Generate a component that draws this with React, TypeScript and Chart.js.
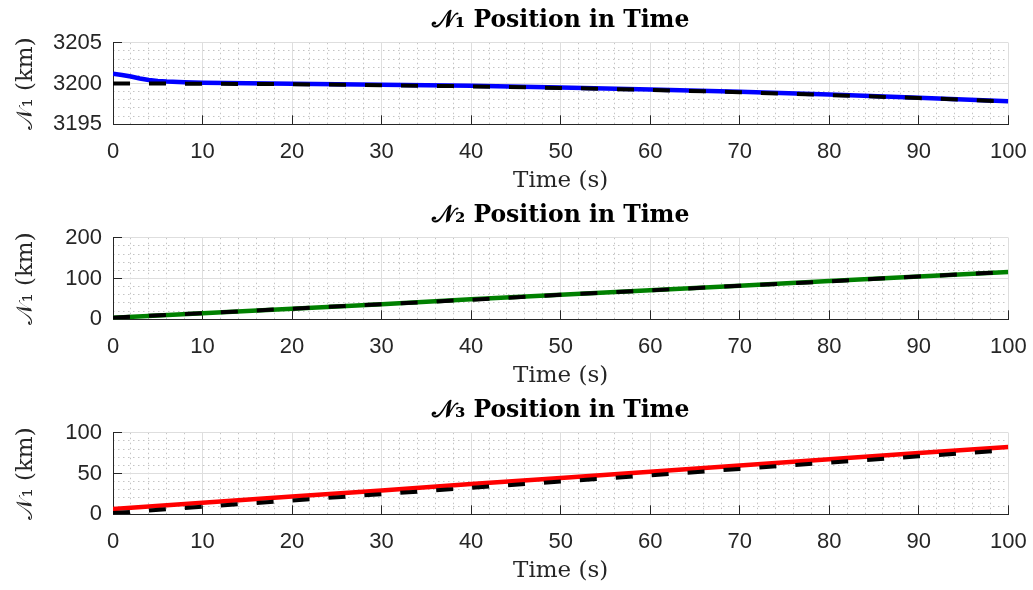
import { useEffect, useRef } from "react";
import { Chart, registerables } from "chart.js";

Chart.register(...registerables);

// ---- data ---------------------------------------------------------------
const REF_TIME = [0, 10, 20, 30, 40, 50, 60, 70, 80, 90, 100];

const N1_TIME = [0, 1, 2, 3, 4, 5, 6, 8, 10, 20, 30, 40, 50, 60, 70, 80, 90, 100];
const N1_ACTUAL = [
  3201.2, 3201.05, 3200.85, 3200.62, 3200.44, 3200.32, 3200.24, 3200.14, 3200.08,
  3199.98, 3199.86, 3199.71, 3199.51, 3199.27, 3198.98, 3198.64, 3198.26, 3197.82,
];
const N1_REF = [3200.0, 3199.98, 3199.91, 3199.8, 3199.65, 3199.46, 3199.22, 3198.93, 3198.59, 3198.22, 3197.8];

const N2_ACTUAL = [4, 15, 26, 37, 49, 60, 71, 82, 94, 105, 116];
const N2_REF = [4, 15, 26, 37, 48, 60, 71, 82, 93, 105, 116];

const N3_ACTUAL = [6.6, 14.2, 21.8, 29.3, 37.0, 44.6, 52.1, 59.8, 67.4, 75.0, 82.6];
const N3_REF = [1.5, 9.2, 17.0, 24.7, 32.4, 40.1, 47.8, 55.6, 63.3, 71.0, 78.7];

const TITLES = ["𝒩₁ Position in Time", "𝒩₂ Position in Time", "𝒩₃ Position in Time"];
const Y_LABEL = "𝒩₁ (km)";
const X_LABEL = "Time (s)";

const Y_RANGES = [
  { min: 3195, max: 3205, major: 5, minor: 1 },
  { min: 0, max: 200, major: 100, minor: 20 },
  { min: 0, max: 100, major: 50, minor: 10 },
];
const X_RANGE = { min: 0, max: 100, major: 10, minor: 2 };

// ---- styling -------------------------------------------------------------
const PANEL_W = 1033;
const PANEL_H = 195;
const PLOT_LEFT = 113;
const PLOT_RIGHT_GAP = 24.7;
const PLOT_BOTTOM = 124.3;
const AXIS_DARK = "#262626";
const GRID_MAJOR = "#dedede";
const GRID_MINOR = "#c4c4c4";
const TICK_FONT = { family: "'Liberation Sans', Arial, sans-serif", size: 22 };
const LABEL_FONT = { family: "'DejaVu Serif', serif", size: 23 };
const TITLE_FONT = { family: "'DejaVu Serif', serif", size: 23.5, weight: "bold" as const };

const pts = (xs: number[], ys: number[]) => xs.map((x, i) => ({ x, y: ys[i] }));

type Series = { time: number[]; values: number[]; color: string; dashed: boolean };

const PANELS: { title: string; series: Series[] }[] = [
  {
    title: TITLES[0],
    series: [
      { time: N1_TIME, values: N1_ACTUAL, color: "#0000ff", dashed: false },
      { time: REF_TIME, values: N1_REF, color: "#000000", dashed: true },
    ],
  },
  {
    title: TITLES[1],
    series: [
      { time: REF_TIME, values: N2_ACTUAL, color: "#008000", dashed: false },
      { time: REF_TIME, values: N2_REF, color: "#000000", dashed: true },
    ],
  },
  {
    title: TITLES[2],
    series: [
      { time: REF_TIME, values: N3_ACTUAL, color: "#ff0000", dashed: false },
      { time: REF_TIME, values: N3_REF, color: "#000000", dashed: true },
    ],
  },
];

const minorColor = (major: number) => (ctx: any) => {
  const v = ctx.tick ? ctx.tick.value : 0;
  const r = Math.abs(v / major - Math.round(v / major));
  return r < 1e-6 ? "rgba(0,0,0,0)" : GRID_MINOR;
};

const plainLabel = (value: number | string) => String(value);

function buildConfig(index: number): any {
  const panel = PANELS[index];
  const yr = Y_RANGES[index];
  return {
    type: "line",
    data: {
      datasets: panel.series.map((s) => ({
        data: pts(s.time, s.values),
        borderColor: s.color,
        backgroundColor: s.color,
        borderWidth: s.dashed ? 4 : 4.5,
        borderDash: s.dashed ? [17, 19] : [],
        borderCapStyle: "butt",
        pointRadius: 0,
        tension: 0,
        fill: false,
        // reference (dashed) curve sits on top of the measured one
        order: s.dashed ? 0 : 1,
      })),
    },
    options: {
      responsive: false,
      animation: false,
      devicePixelRatio: 1,
      layout: { padding: { left: 8, right: 0, top: 0, bottom: 0 } },
      plugins: {
        legend: { display: false },
        tooltip: { enabled: false },
        title: {
          display: true,
          text: panel.title,
          color: "#000000",
          font: TITLE_FONT,
          fullSize: false,
          padding: { top: 7.2, bottom: 7.3 },
        },
      },
      scales: {
        xMinor: {
          type: "linear",
          position: "bottom",
          min: X_RANGE.min,
          max: X_RANGE.max,
          ticks: { display: false, stepSize: X_RANGE.minor },
          grid: { color: minorColor(X_RANGE.major), lineWidth: 1, drawTicks: false },
          border: { display: false, dash: [1.5, 3.5] },
        },
        yMinor: {
          type: "linear",
          position: "left",
          min: yr.min,
          max: yr.max,
          ticks: { display: false, stepSize: yr.minor },
          grid: { color: minorColor(yr.major), lineWidth: 1, drawTicks: false },
          border: { display: false, dash: [1.5, 3.5] },
        },
        x: {
          type: "linear",
          position: "bottom",
          min: X_RANGE.min,
          max: X_RANGE.max,
          ticks: {
            stepSize: X_RANGE.major,
            font: TICK_FONT,
            color: AXIS_DARK,
            padding: 23.5,
            maxRotation: 0,
            callback: plainLabel,
          },
          grid: {
            color: GRID_MAJOR,
            lineWidth: 1,
            drawTicks: true,
            tickLength: -9,
            tickColor: AXIS_DARK,
            tickWidth: 1,
          },
          border: { display: true, color: AXIS_DARK, width: 1 },
          title: { display: true, text: X_LABEL, color: AXIS_DARK, font: LABEL_FONT, padding: { top: 0, bottom: 0 } },
          afterFit: (scale: any) => {
            scale.height = PANEL_H - PLOT_BOTTOM;
            scale.paddingLeft = 0;
            scale.paddingRight = PLOT_RIGHT_GAP;
          },
        },
        y: {
          type: "linear",
          position: "left",
          min: yr.min,
          max: yr.max,
          ticks: { stepSize: yr.major, font: TICK_FONT, color: AXIS_DARK, padding: 20, callback: plainLabel },
          grid: {
            color: GRID_MAJOR,
            lineWidth: 1,
            drawTicks: true,
            tickLength: -9,
            tickColor: AXIS_DARK,
            tickWidth: 1,
          },
          border: { display: true, color: AXIS_DARK, width: 1 },
          title: { display: true, text: Y_LABEL, color: AXIS_DARK, font: LABEL_FONT, padding: { top: 4.2, bottom: 0 } },
          afterFit: (scale: any) => {
            scale.width = PLOT_LEFT - 8;
          },
        },
      },
    },
  };
}

function Panel({ index }: { index: number }) {
  const ref = useRef<HTMLCanvasElement | null>(null);
  useEffect(() => {
    if (!ref.current) return;
    const chart = new Chart(ref.current, buildConfig(index));
    return () => chart.destroy();
  }, [index]);
  return (
    <canvas
      ref={ref}
      width={PANEL_W}
      height={PANEL_H}
      style={{ position: "absolute", left: 0, top: index * PANEL_H, width: PANEL_W, height: PANEL_H, display: "block" }}
    />
  );
}

export default function App() {
  return (
    <div style={{ position: "absolute", left: 0, top: 0, width: PANEL_W, height: 590, background: "#ffffff" }}>
      {PANELS.map((_, i) => (
        <Panel key={i} index={i} />
      ))}
    </div>
  );
}
